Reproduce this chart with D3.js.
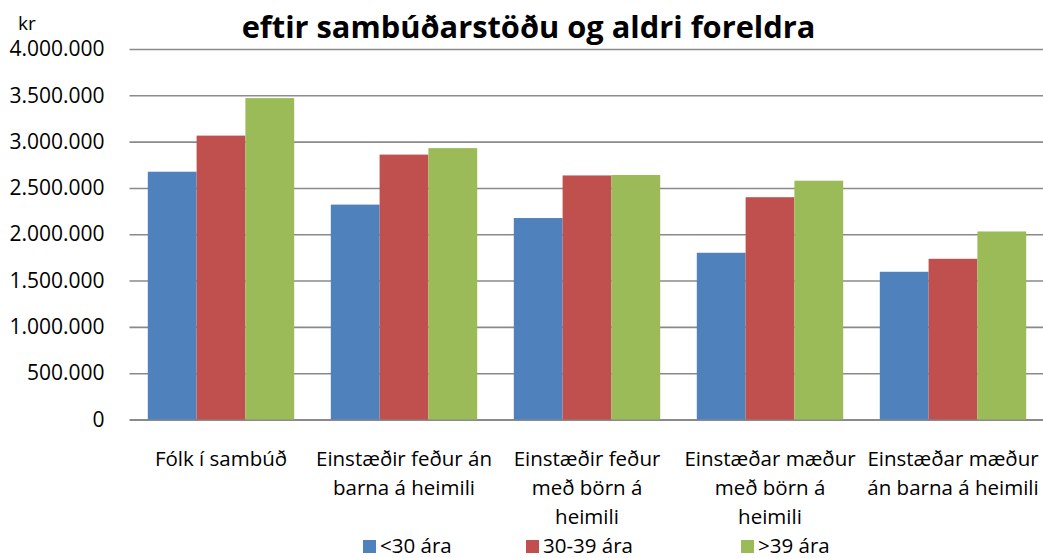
<!DOCTYPE html>
<html>
<head>
<meta charset="utf-8">
<script src="https://cdn.jsdelivr.net/npm/d3@7"></script>
<style>
  body { margin: 0; background: #fff; }
  svg text { font-family: "Open Sans", "Liberation Sans", sans-serif; fill: #000; }
</style>
</head>
<body>
<svg class="chart" width="1043" height="558"></svg>
<script>
// data
const title = "eftir sambúðarstöðu og aldri foreldra";
const unit = "kr";
const categories = [
  "Fólk í sambúð",
  "Einstæðir feður án\nbarna á heimili",
  "Einstæðir feður\nmeð börn á\nheimili",
  "Einstæðar mæður\nmeð börn á\nheimili",
  "Einstæðar mæður\nán barna á heimili"
];
const seriesNames = ["<30 ára", "30-39 ára", ">39 ára"];
const under30 = [2675000, 2320000, 2175000, 1800000, 1595000];
const from30to39 = [3065000, 2860000, 2635000, 2400000, 1735000];
const over39 = [3470000, 2930000, 2640000, 2578000, 2030000];
const yTicks = [0, 500000, 1000000, 1500000, 2000000, 2500000, 3000000, 3500000, 4000000];

const colors = ["#4F81BD", "#C0504D", "#9BBB59"];
const seriesValues = [under30, from30to39, over39];

// config
const plotLeft = 129.5;
const plotRight = 1044.5;
const plotTop = 49;
const plotBottom = 419.5;

const svg = d3.select("svg.chart");

const is = d3.formatLocale({ decimal: ",", thousands: ".", grouping: [3], currency: ["", ""] });
const fmt = is.format(",");

const x = d3.scaleBand()
  .domain(categories)
  .range([plotLeft, plotRight])
  .paddingInner(0.2)
  .paddingOuter(0.1);

const xSeries = d3.scaleBand()
  .domain(d3.range(seriesNames.length))
  .range([0, x.bandwidth()]);

const y = d3.scaleLinear()
  .domain([0, 4000000])
  .range([plotBottom, plotTop]);

// gridlines + y labels
const yAxis = d3.axisLeft(y)
  .tickValues(yTicks)
  .tickFormat(fmt)
  .tickSize(-(plotRight - plotLeft))
  .tickPadding(25);

const gy = svg.append("g")
  .attr("transform", `translate(${plotLeft},0)`)
  .call(yAxis);
gy.select(".domain").remove();
gy.selectAll(".tick line")
  .attr("stroke", "#8a8a8a")
  .attr("stroke-width", d => d === 0 ? 2 : 1.6);
gy.selectAll(".tick text")
  .attr("font-size", 21)
  .attr("fill", "#000")
  .style("font-family", '"Open Sans", sans-serif');

// bars
const groups = svg.append("g")
  .selectAll("g.group")
  .data(categories)
  .join("g")
  .attr("class", "group")
  .attr("transform", c => `translate(${x(c)},0)`);

groups.selectAll("rect")
  .data((c, i) => seriesValues.map((vals, s) => ({ s, v: vals[i] })))
  .join("rect")
  .attr("x", d => xSeries(d.s))
  .attr("width", xSeries.bandwidth())
  .attr("y", d => y(d.v))
  .attr("height", d => y(0) - y(d.v))
  .attr("fill", d => colors[d.s]);

// category labels
const catLabels = svg.append("g")
  .selectAll("text")
  .data(categories)
  .join("text")
  .attr("x", c => x(c) + x.bandwidth() / 2)
  .attr("y", 466)
  .attr("text-anchor", "middle")
  .attr("font-size", 20.5);

catLabels.selectAll("tspan")
  .data(c => c.split("\n"))
  .join("tspan")
  .attr("x", function () { return this.parentNode.getAttribute("x"); })
  .attr("dy", (d, i) => i === 0 ? 0 : 29)
  .text(d => d);

// unit label
svg.append("text")
  .attr("x", 18)
  .attr("y", 30)
  .attr("font-size", 19)
  .text(unit);

// title
const titleText = svg.append("text")
  .attr("x", 528.5)
  .attr("y", 38)
  .attr("text-anchor", "middle")
  .attr("font-weight", "bold")
  .attr("font-size", 30)
  .text(title);
const tw = titleText.node().getComputedTextLength();
titleText.attr("font-size", 30 * 574 / tw);

// legend
const legendX = [363, 526, 741];
const legend = svg.append("g")
  .selectAll("g")
  .data(seriesNames)
  .join("g")
  .attr("transform", (d, i) => `translate(${legendX[i]},540)`);

legend.append("rect")
  .attr("width", 13)
  .attr("height", 13)
  .attr("fill", (d, i) => colors[i]);

legend.append("text")
  .attr("x", 17)
  .attr("y", 12.5)
  .attr("font-size", 20.5)
  .text(d => d);
</script>
</body>
</html>
